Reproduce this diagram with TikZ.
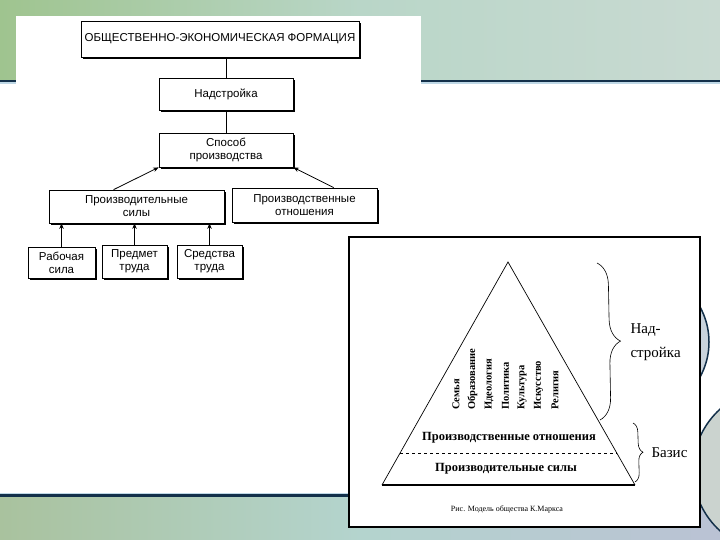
\documentclass[tikz,border=0pt]{standalone}
\usepackage{fontspec}
\setmainfont{Liberation Serif}
\newfontfamily\scansans{Liberation Sans}
\usetikzlibrary{arrows.meta, positioning, calc, decorations.pathreplacing, shadows}

\definecolor{bandgreen}{HTML}{9FC48F}
\definecolor{bandmid}{HTML}{B9D6C8}
\definecolor{bandgrey}{HTML}{C9DAD2}
\definecolor{lowgreen}{HTML}{A9C29E}
\definecolor{lowteal}{HTML}{B4D4CE}
\definecolor{lowlilac}{HTML}{BAC2D4}
\definecolor{navyline}{HTML}{13304A}
\definecolor{paleline}{HTML}{BFD8E6}
\definecolor{ringfill}{HTML}{C9D3DC}
\definecolor{ringgrey}{HTML}{CBD3CF}

\begin{document}
\begin{tikzpicture}[
  x=1pt, y=-1pt,
  >={Stealth[length=5.5pt, width=4.5pt]},
  sbox/.style={
    draw, line width=0.8pt, fill=white,
    align=center, inner sep=1pt,
    font=\scansans\fontsize{11.5}{13}\selectfont,
    drop shadow={shadow xshift=2.2pt, shadow yshift=-2.2pt, opacity=1, fill=black}
  },
  lnk/.style={line width=0.7pt},
  arr/.style={->, line width=0.8pt},
  layer/.style={font=\bfseries\fontsize{12.5}{14}\selectfont},
  sphere/.style={rotate=90, anchor=west, inner sep=0pt,
    font=\bfseries\fontsize{10.5}{11}\selectfont},
  brace/.style={decorate, line width=0.6pt},
  side/.style={font=\fontsize{15}{24}\selectfont, align=left, anchor=west},
]
\useasboundingbox (0,0) rectangle (720,540);

%% ── Slide background ──────────────────────────────────────────────────────
\fill[white] (0,0) rectangle (720,540);
\shade[left color=bandgreen, right color=bandgrey, middle color=bandmid]
  (0,0) rectangle (720,80);
\fill[navyline] (0,80) rectangle (720,82.5);
\fill[paleline] (0,82.5) rectangle (720,84);
\shade[left color=lowgreen, right color=lowlilac, middle color=lowteal]
  (0,496) rectangle (720,540);
\fill[paleline] (0,492.5) rectangle (720,494);
\fill[navyline] (0,494) rectangle (720,496.5);
\draw[navyline, line width=1.5pt, fill=ringfill] (636.5,342) circle (72.5);
\draw[navyline, line width=1.5pt, fill=ringgrey] (775,470) circle (82);

%% ── Left scan: formation scheme ───────────────────────────────────────────
\fill[white] (16,16) rectangle (421,300);

\node[sbox, minimum width=278, minimum height=36] (of) at (220,39)
  {ОБЩЕСТВЕННО-ЭКОНОМИЧЕСКАЯ ФОРМАЦИЯ};
\node[sbox, minimum width=134, minimum height=32] (nd) at (226,94) {Надстройка};
\node[sbox, minimum width=134, minimum height=34] (sp) at (226,150)
  {Способ\\производства};
\node[sbox, minimum width=175, minimum height=33] (ps) at (136.5,206.5)
  {Производительные\\силы};
\node[sbox, minimum width=145, minimum height=34] (po) at (304.5,205)
  {Производственные\\отношения};
\node[sbox, minimum width=67, minimum height=31] (rs) at (61.5,262.5)
  {Рабочая\\сила};
\node[sbox, minimum width=65, minimum height=33] (pt) at (134.5,261.5)
  {Предмет\\труда};
\node[sbox, minimum width=65, minimum height=33] (st) at (209.5,261.5)
  {Средства\\труда};

\draw[lnk] (nd.north) -- (nd.north |- of.south);
\draw[lnk] (nd.south) -- (sp.north);
\draw[arr] ($(ps.north west)!0.37!(ps.north east)$) -- (sp.south west);
\draw[arr] ($(po.north west)!0.7!(po.north east)$) -- (sp.south east);
\foreach \b in {rs, pt, st}
  \draw[arr] (\b.north) -- (\b.north |- ps.south);

%% ── Right scan: pyramid of society ────────────────────────────────────────
\draw[line width=1.2pt, fill=white] (349,237) rectangle (700,527);

\coordinate (apex) at (508,262);
\coordinate (bl) at (382,485);
\coordinate (br) at (635,485);
\draw[line width=0.7pt] (bl) -- (apex) -- (br);
\draw[line width=2pt] (bl) -- (br);
\draw[dashed, line width=0.7pt] ($(apex)!0.857!(bl)$) -- ($(apex)!0.857!(br)$);

\node[layer] (rel) at (509,438) {Производственные отношения};
\node[layer] (frc) at (506,469) {Производительные силы};

\foreach \w [count=\i] in {Семья, Образование, Идеология, Политика,
    Культура, Искусство, Религия}
  \node[sphere] (sph\i) at ({439.5+16.5*\i},410) {\w};

%% ── Braces ────────────────────────────────────────────────────────────────
\coordinate (nt) at (597,263);
\coordinate (nb) at (600,420);
\coordinate (bt) at (633,423);
\coordinate (bb) at (635,482);
\draw[brace, decoration={brace, amplitude=22pt}] (nt) -- (nb);
\draw[brace, decoration={brace, amplitude=9pt}] (bt) -- (bb);
\node[side] (sup) at (627,342) {Над-\\стройка};
\node[side] (bas) at (648,453) {Базис};

\node[font=\fontsize{8}{9}\selectfont] (cap) at (507,509)
  {Рис. Модель общества К.Маркса};

\end{tikzpicture}
\end{document}
